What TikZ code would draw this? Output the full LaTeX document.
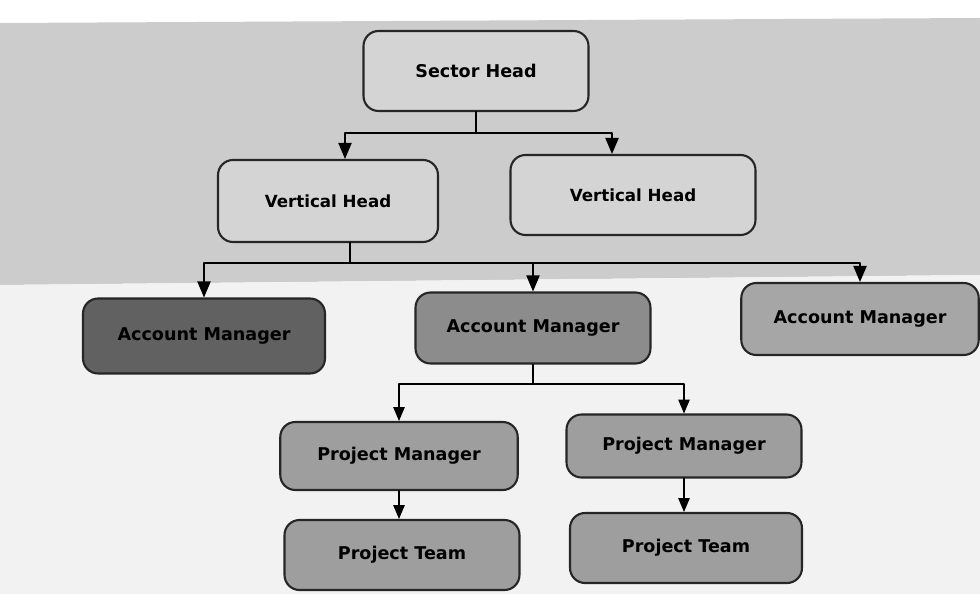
\documentclass[tikz,border=0pt]{standalone}
\usepackage{fontspec}
\setmainfont{DejaVu Sans}
\usetikzlibrary{arrows}
\begin{document}
\begin{tikzpicture}[line cap=round,line join=round,>=triangle 45,x=0.02cm,
y=-0.02cm,
box/.style={draw=black!85,line width=1.2pt,rounded corners=0.3cm,
font=\bfseries\fontsize{10}{12}\selectfont,align=center,inner sep=0pt},
conn/.style={->,line width=1.1pt},
thinconn/.style={->,line width=0.8pt}]
% Vẽ nền
\useasboundingbox (0,0) rectangle (980,594);
\fill[white] (0,0) rectangle (980,594);
\fill[black!20] (0,23) -- (980,18) -- (980,275) -- (0,285) -- cycle;
\fill[black!5] (0,285) -- (980,275) -- (980,594) -- (0,594) -- cycle;
% Vẽ các ô
\node[box,fill=black!17,minimum width=4.5cm,minimum height=1.6cm] (sh) at (476,71) {Sector Head};
\node[box,fill=black!17,minimum width=4.4cm,minimum height=1.64cm,
font=\bfseries\fontsize{9.5}{12}\selectfont] (vh1) at (328,201) {Vertical Head};
\node[box,fill=black!17,minimum width=4.9cm,minimum height=1.6cm,
font=\bfseries\fontsize{9.5}{12}\selectfont] (vh2) at (633,195) {Vertical Head};
\node[box,fill=black!62,minimum width=4.84cm,minimum height=1.5cm] (am1) at (204,336) {Account Manager};
\node[box,fill=black!45,minimum width=4.7cm,minimum height=1.42cm] (am2) at (533,328) {Account Manager};
\node[box,fill=black!35,minimum width=4.75cm,minimum height=1.44cm] (am3) at (860,319) {Account Manager};
\node[box,fill=black!38,minimum width=4.75cm,minimum height=1.36cm] (pm1) at (399,456) {Project Manager};
\node[box,fill=black!38,minimum width=4.7cm,minimum height=1.26cm] (pm2) at (684,446) {Project Manager};
\node[box,fill=black!38,minimum width=4.7cm,minimum height=1.4cm] (pt1) at (402,555) {Project Team};
\node[box,fill=black!38,minimum width=4.64cm,minimum height=1.4cm] (pt2) at (686,548) {Project Team};
% Vẽ các đường nối
\coordinate (b1) at (476,133);
\coordinate (b2) at (350,263);
\coordinate (b3) at (533,384);
\draw[line width=1.4pt] (sh) -- (b1);
\draw[conn] (b1) -| ([xshift=0.34cm]vh1.north);
\draw[conn] (b1) -| ([xshift=-0.42cm]vh2.north);
\draw[line width=1.4pt] (vh1.south -| b2) -- (b2);
\draw[conn] (b2) -| (am1);
\draw[conn] (b2) -| (am2);
\draw[conn] (b2) -| (am3);
\draw[line width=0.9pt] (am2) -- (b3);
\draw[thinconn] (b3) -| (pm1);
\draw[thinconn] (b3) -| (pm2);
\draw[thinconn] (pm1.south) -- (pm1.south |- pt1.north);
\draw[thinconn] (pm2.south) -- (pm2.south |- pt2.north);
\end{tikzpicture}
\end{document}
